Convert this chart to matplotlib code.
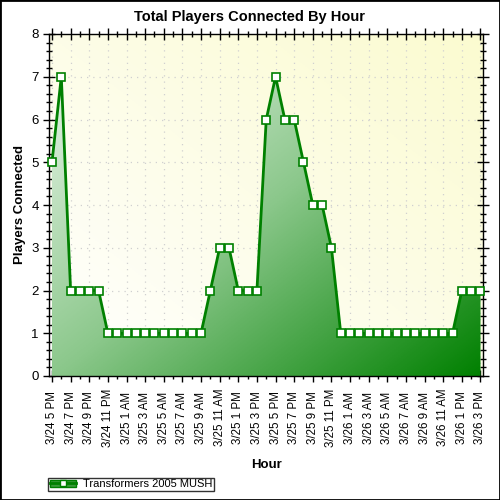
import numpy as np
import matplotlib
matplotlib.use('Agg')
import matplotlib.pyplot as plt
from matplotlib.colors import LinearSegmentedColormap
from matplotlib.lines import Line2D
from matplotlib.patches import Patch, Rectangle
from matplotlib.ticker import MultipleLocator

plt.rcParams['font.family'] = ['Liberation Sans', 'DejaVu Sans']

# players connected, one value per hour starting 3/24 5 PM
players = [5, 7, 2, 2, 2, 2,
           1, 1, 1, 1, 1, 1, 1, 1, 1, 1, 1,
           2, 3, 3, 2, 2, 2,
           6, 7, 6, 6, 5, 4, 4, 3,
           1, 1, 1, 1, 1, 1, 1, 1, 1, 1, 1, 1, 1,
           2, 2, 2]
tick_labels = ['3/24 5 PM', '3/24 7 PM', '3/24 9 PM', '3/24 11 PM',
               '3/25 1 AM', '3/25 3 AM', '3/25 5 AM', '3/25 7 AM',
               '3/25 9 AM', '3/25 11 AM', '3/25 1 PM', '3/25 3 PM',
               '3/25 5 PM', '3/25 7 PM', '3/25 9 PM', '3/25 11 PM',
               '3/26 1 AM', '3/26 3 AM', '3/26 5 AM', '3/26 7 AM',
               '3/26 9 AM', '3/26 11 AM', '3/26 1 PM', '3/26 3 PM']
series_name = 'Transformers 2005 MUSH'

x = np.arange(len(players))
y = np.array(players)

fig = plt.figure(figsize=(5, 5), dpi=100)
ax = fig.add_axes([0.098, 0.248, 0.868, 0.684])
xmin, xmax = -0.32, len(players) - 1 + 0.27
ax.set_xlim(xmin, xmax)
ax.set_ylim(0, 8)

# background gradient (white lower-left -> pale yellow upper-right)
gx, gy = np.meshgrid(np.linspace(0, 1, 200), np.linspace(0, 1, 200))
bg = (gx + gy) / 2
bg_cmap = LinearSegmentedColormap.from_list('bg', ['#ffffff', '#fbfbd0'])
ax.imshow(bg, cmap=bg_cmap, extent=[xmin, xmax, 0, 8], origin='lower',
          aspect='auto', zorder=0)

# grid
for yy in range(1, 8):
    ax.axhline(yy, color='#d0d0d0', lw=0.9, ls=(0, (1, 4)), zorder=1)
for xx in range(0, len(players), 2):
    ax.axvline(xx, color='#d0d0d0', lw=0.9, ls=(0, (1, 4)), zorder=1)

# gradient area fill
poly = ax.fill_between(x, y, 0, color='none', zorder=2)
fill = (gx + (1 - gy)) / 2
fill_cmap = LinearSegmentedColormap.from_list('fill', ['#f2f9f2', '#8cc88c', '#008000'])
im = ax.imshow(fill, cmap=fill_cmap, extent=[xmin, xmax, 0, 8], origin='lower',
               aspect='auto', zorder=2)
im.set_clip_path(poly.get_paths()[0], transform=ax.transData)

ax.plot(x, y, color='#008000', lw=2, marker='s', ms=6, mfc='white',
        mec='#008000', mew=1.2, zorder=3, clip_on=False)

# ticks
ax.set_xticks(np.arange(0, len(players), 2))
ax.set_xticklabels(tick_labels, rotation=90, fontsize=8.3, va='center')
ax.xaxis.set_minor_locator(MultipleLocator(1))
ax.yaxis.set_major_locator(MultipleLocator(1))
ax.yaxis.set_minor_locator(MultipleLocator(0.2))
ax.tick_params(axis='both', which='major', direction='inout', length=8, width=1,
               top=True, right=True)
ax.tick_params(axis='y', which='major', labelsize=9.5)
ax.tick_params(axis='both', which='minor', direction='inout', length=5, width=1,
               top=True, right=True)
ax.tick_params(axis='x', which='major', pad=26)
for sp in ax.spines.values():
    sp.set_linewidth(1)

fig.text(0.5, 0.966, 'Total Players Connected By Hour', fontsize=10.5,
         fontweight='bold', ha='center', va='center')
ax.set_ylabel('Players Connected', fontsize=9.5, fontweight='bold', labelpad=4)
fig.text(0.532, 0.07, 'Hour', fontsize=9.5, fontweight='bold', ha='center', va='center')

# legend
handle = (Patch(facecolor='#3a9a3a', edgecolor='#008000'),
          Line2D([], [], color='#008000', lw=2, marker='s', ms=5, mfc='white', mec='#008000'))
fig.legend([handle], [series_name], loc='lower left', bbox_to_anchor=(0.096, 0.018),
           fontsize=8, frameon=True, fancybox=False, edgecolor='black',
           borderpad=0.15, handlelength=2.4, handletextpad=0.6, borderaxespad=0)

fig.patches.append(Rectangle((0, 0), 1, 1, transform=fig.transFigure, fill=False,
                             edgecolor='black', lw=2))

fig.savefig('out.png', dpi=100)
